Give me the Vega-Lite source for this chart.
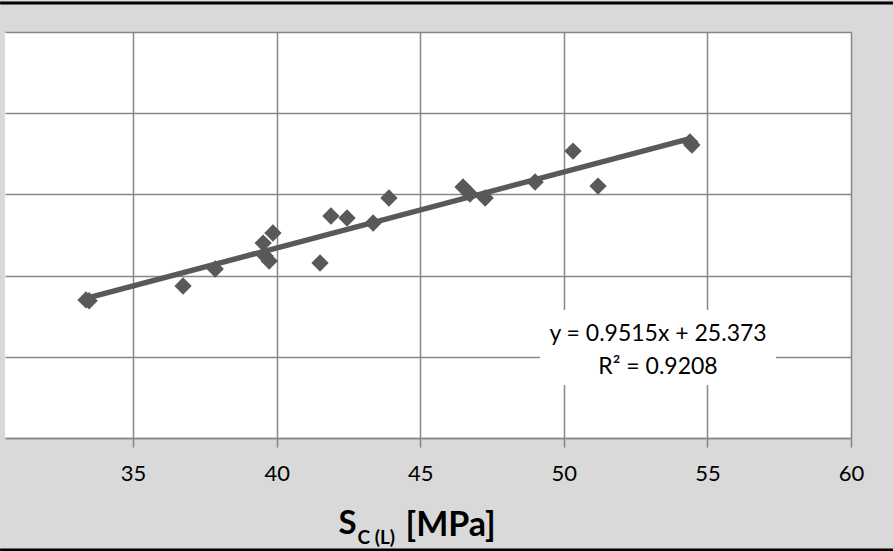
{
  "$schema": "https://vega.github.io/schema/vega-lite/v6.json",
  "width": 846,
  "height": 406,
  "autosize": {"type": "none"},
  "padding": {"left": 5, "top": 32, "right": 42, "bottom": 113},
  "background": "#d9d9d9",
  "config": {"view": {"fill": "white", "stroke": null}, "font": "Lato"},
  "datasets": {
    "points": [
      {"sc": 33.36, "value": 57.0},
      {"sc": 33.47, "value": 56.9},
      {"sc": 36.74, "value": 58.72},
      {"sc": 37.86, "value": 60.81},
      {"sc": 39.53, "value": 64.01},
      {"sc": 39.87, "value": 65.25},
      {"sc": 39.6, "value": 62.41},
      {"sc": 39.74, "value": 61.8},
      {"sc": 41.51, "value": 61.55},
      {"sc": 41.89, "value": 67.34},
      {"sc": 42.45, "value": 67.09},
      {"sc": 43.36, "value": 66.48},
      {"sc": 43.91, "value": 69.56},
      {"sc": 46.49, "value": 70.91},
      {"sc": 46.73, "value": 70.05},
      {"sc": 47.26, "value": 69.56},
      {"sc": 49.0, "value": 71.53},
      {"sc": 50.32, "value": 75.34},
      {"sc": 51.19, "value": 71.03},
      {"sc": 54.39, "value": 76.45},
      {"sc": 54.46, "value": 76.08}
    ],
    "one": [{"eq": "y = 0.9515x + 25.373", "r2": "R² = 0.9208"}]
  },
  "resolve": {"axis": {"x": "independent", "y": "independent"}},
  "layer": [
    {
      "data": {"name": "one"},
      "mark": {"type": "rect", "fill": "white"},
      "encoding": {
        "x": {"datum": 49.17, "type": "quantitative", "scale": {"domain": [30.54, 60], "nice": false, "zero": false}, "axis": null},
        "x2": {"datum": 57.39},
        "y": {"datum": 55.76, "type": "quantitative", "scale": {"domain": [40, 90], "nice": false, "zero": false}, "axis": null},
        "y2": {"datum": 46.53}
      }
    },
    {
      "data": {"name": "points"},
      "transform": [{"regression": "value", "on": "sc"}],
      "mark": {"type": "line", "color": "#595959", "strokeWidth": 5.5},
      "encoding": {
        "x": {
          "field": "sc", "type": "quantitative",
          "scale": {"domain": [30.54, 60], "nice": false, "zero": false},
          "axis": {"orient": "bottom", "grid": false, "labels": false, "ticks": false, "domain": false,
            "title": "C (L)", "titleFont": "Lato", "titleFontWeight": "bold", "titleFontSize": 19, "titleColor": "#000000",
            "titleAlign": "left", "titleBaseline": "alphabetic", "titleX": 352, "titleY": 105}
        },
        "y": {"field": "value", "type": "quantitative", "scale": {"domain": [40, 90], "nice": false, "zero": false}, "axis": null}
      }
    },
    {
      "data": {"name": "points"},
      "mark": {"type": "point", "shape": "diamond", "filled": true, "size": 300, "fill": "#595959", "opacity": 1, "strokeWidth": 0},
      "encoding": {
        "x": {
          "field": "sc", "type": "quantitative",
          "scale": {"domain": [30.54, 60], "nice": false, "zero": false},
          "axis": {"orient": "bottom", "values": [35, 40, 45, 50, 55, 60], "grid": true, "gridColor": "#878787", "gridWidth": 1.5,
            "domain": true, "domainColor": "#878787", "domainWidth": 1.5,
            "ticks": true, "tickColor": "#878787", "tickWidth": 1.5, "tickSize": 9,
            "labelFont": "Lato", "labelFontSize": 22, "labelColor": "#000000", "labelPadding": 16, "labelFlush": false,
            "title": "S", "titleFont": "Lato", "titleFontWeight": "bold", "titleFontSize": 33, "titleColor": "#000000",
            "titleAlign": "left", "titleBaseline": "alphabetic", "titleX": 333, "titleY": 95}
        },
        "y": {
          "field": "value", "type": "quantitative",
          "scale": {"domain": [40, 90], "nice": false, "zero": false},
          "axis": {"values": [40, 50, 60, 70, 80, 90], "grid": true, "gridColor": "#878787", "gridWidth": 1.5,
            "labels": false, "ticks": false, "domain": false, "title": null}
        }
      }
    },
    {
      "data": {"name": "one"},
      "mark": {"type": "text", "font": "Lato", "fontSize": 23, "fontWeight": "normal", "fill": "#000000", "align": "center", "baseline": "alphabetic"},
      "encoding": {
        "x": {
          "datum": 53.28, "type": "quantitative",
          "scale": {"domain": [30.54, 60], "nice": false, "zero": false},
          "axis": {"orient": "bottom", "grid": false, "labels": false, "ticks": false, "domain": false,
            "title": "[MPa]", "titleFont": "Lato", "titleFontWeight": "bold", "titleFontSize": 34, "titleColor": "#000000",
            "titleAlign": "left", "titleBaseline": "alphabetic", "titleX": 400, "titleY": 97}
        },
        "y": {"datum": 51.95, "type": "quantitative", "scale": {"domain": [40, 90], "nice": false, "zero": false}, "axis": null},
        "text": {"field": "eq"}
      }
    },
    {
      "data": {"name": "one"},
      "mark": {"type": "text", "font": "Lato", "fontSize": 23, "fontWeight": "normal", "fill": "#000000", "align": "center", "baseline": "alphabetic"},
      "encoding": {
        "x": {"datum": 53.28, "type": "quantitative", "scale": {"domain": [30.54, 60], "nice": false, "zero": false}, "axis": null},
        "y": {"datum": 47.88, "type": "quantitative", "scale": {"domain": [40, 90], "nice": false, "zero": false}, "axis": null},
        "text": {"field": "r2"}
      }
    },
    {
      "data": {"name": "one"},
      "mark": {"type": "rule", "color": "#000000", "strokeWidth": 3},
      "encoding": {
        "x": {"datum": 30.369, "type": "quantitative", "scale": {"domain": [30.54, 60], "nice": false, "zero": false}, "axis": null},
        "x2": {"datum": 61.46},
        "y": {"datum": 93.57, "type": "quantitative", "scale": {"domain": [40, 90], "nice": false, "zero": false}, "axis": null}
      }
    },
    {
      "data": {"name": "one"},
      "mark": {"type": "rule", "color": "#000000", "strokeWidth": 3},
      "encoding": {
        "x": {"datum": 30.369, "type": "quantitative", "scale": {"domain": [30.54, 60], "nice": false, "zero": false}, "axis": null},
        "x2": {"datum": 61.46},
        "y": {"datum": 26.21, "type": "quantitative", "scale": {"domain": [40, 90], "nice": false, "zero": false}, "axis": null}
      }
    }
  ]
}
